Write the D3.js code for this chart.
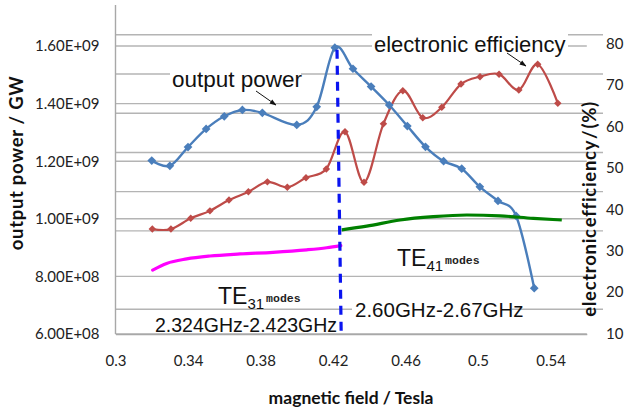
<!DOCTYPE html>
<html>
<head>
<meta charset="utf-8">
<script src="https://cdn.jsdelivr.net/npm/d3@7"></script>
<style>
  html, body { margin: 0; padding: 0; background: #fff; }
  svg { display: block; }
  text { font-family: Lato, "Open Sans", sans-serif; }
  .lbl { font-family: "Liberation Sans", Arial, sans-serif; fill: #111; }
  .modes { font-family: "Liberation Mono", monospace; font-weight: bold; fill: #222; }
</style>
</head>
<body>
<svg id="chart" width="625" height="411"></svg>
<script>
// magnetic field (T) and output power (W)
const powerField = [0.32, 0.33, 0.34, 0.35, 0.36, 0.37, 0.381, 0.40, 0.411, 0.421, 0.431,
                    0.441, 0.451, 0.461, 0.471, 0.481, 0.491, 0.501, 0.511, 0.521, 0.531];
const powerValues = [1.202e9, 1.184e9, 1.249e9, 1.312e9, 1.356e9, 1.378e9, 1.368e9, 1.326e9,
                     1.389e9, 1.594e9, 1.521e9, 1.459e9, 1.395e9, 1.322e9, 1.250e9, 1.200e9,
                     1.174e9, 1.111e9, 1.062e9, 1.010e9, 7.59e8];

// magnetic field (T) and electronic efficiency (%)
const effField = [0.3203, 0.3306, 0.3415, 0.3521, 0.3626, 0.3733, 0.3838, 0.3948, 0.4051,
                  0.4163, 0.4266, 0.4371, 0.4478, 0.4585, 0.4695, 0.4800, 0.4906, 0.5011,
                  0.5116, 0.5225, 0.5329, 0.5440];
const effValues = [35.2, 35.2, 37.8, 39.6, 42.2, 44.2, 46.6, 45.3, 47.6, 49.7, 58.7, 46.5,
                   60.6, 68.6, 62.1, 64.6, 70.2, 72.0, 72.6, 68.8, 75.0, 65.6];

// TE31 mode band (efficiency scale)
const te31Field = [0.3205, 0.3282, 0.3393, 0.3521, 0.3687, 0.3869, 0.4055, 0.4165, 0.4243];
const te31Values = [25.3, 26.9, 28.0, 28.7, 29.2, 29.6, 30.2, 30.7, 31.2];

// TE41 mode band (efficiency scale)
const te41Field = [0.4248, 0.4386, 0.4570, 0.4753, 0.4938, 0.5121, 0.5305, 0.5462];
const te41Values = [35.0, 35.9, 37.4, 38.2, 38.6, 38.4, 37.8, 37.4];

// mode boundary
const boundaryField = [0.4222, 0.4245];
const boundaryEff = [78.5, 10];

// axis ticks
const xTicks = [0.3, 0.34, 0.38, 0.42, 0.46, 0.5, 0.54];
const leftTicks = [6e8, 8e8, 1.0e9, 1.2e9, 1.4e9, 1.6e9];
const leftTickLabels = ["6.00E+08", "8.00E+08", "1.00E+09", "1.20E+09", "1.40E+09", "1.60E+09"];
const rightTicks = [10, 20, 30, 40, 50, 60, 70, 80];
// grid of the efficiency panel (its own spacing)
const effGrid = [20, 40, 50, 60, 70, 80, 90];

const svg = d3.select("#chart");

const x = d3.scaleLinear().domain([0.3, 0.56]).range([115.5, 586.8]);
const yL = d3.scaleLinear().domain([6e8, 1.6e9]).range([334, 46]);
const yR = d3.scaleLinear().domain([10, 80]).range([333.5, 43.5]);
const yG = d3.scaleLinear().domain([10, 80]).range([348.5, 74]);

const gridColor = "#b4b4b4";

// efficiency panel grid
svg.append("g").selectAll("line").data(effGrid).join("line")
  .attr("x1", x(0.3)).attr("x2", 603)
  .attr("y1", d => yG(d)).attr("y2", d => yG(d))
  .attr("stroke", gridColor).attr("stroke-width", 1.4);

// power grid
svg.append("g").selectAll("line").data(leftTicks).join("line")
  .attr("x1", x(0.3)).attr("x2", x(0.56))
  .attr("y1", d => yL(d)).attr("y2", d => yL(d))
  .attr("stroke", gridColor).attr("stroke-width", 1.4);

// left axis
const leftAxis = d3.axisLeft(yL).tickValues(leftTicks)
  .tickFormat((d, i) => leftTickLabels[i]).tickSize(0).tickPadding(16);
const gL = svg.append("g").attr("transform", `translate(${x(0.3)},0)`).call(leftAxis);
gL.select(".domain").remove();
gL.append("line").attr("x1", 0).attr("x2", 0).attr("y1", 5).attr("y2", 334)
  .attr("stroke", "#a8a8a8").attr("stroke-width", 1.4);
gL.selectAll("text").attr("font-size", 15).attr("fill", "#222")
  .attr("font-family", "Lato, sans-serif");

// bottom axis
const bottomAxis = d3.axisBottom(x).tickValues(xTicks).tickFormat(d3.format("")).tickSize(0).tickPadding(21);
const gB = svg.append("g").attr("transform", "translate(0,334)").call(bottomAxis);
gB.select(".domain").attr("stroke", "#a8a8a8").attr("stroke-width", 1.4);
gB.selectAll("text").attr("font-size", 15).attr("fill", "#222")
  .attr("font-family", "Lato, sans-serif");

// right axis
const rightAxis = d3.axisRight(yR).tickValues(rightTicks).tickSize(0).tickPadding(0);
const gR = svg.append("g").attr("transform", "translate(606,0)").call(rightAxis);
gR.select(".domain").remove();
gR.selectAll("text").attr("font-size", 15).attr("fill", "#222")
  .attr("font-family", "Lato, sans-serif");

// axis titles
svg.append("text").attr("transform", "translate(23,163) rotate(-90)")
  .attr("text-anchor", "middle").attr("font-weight", "bold").attr("font-size", 18.5)
  .attr("letter-spacing", "0.7px").attr("fill", "#111").text("output power / GW");
svg.append("text").attr("transform", "translate(596,209) rotate(-90)")
  .attr("text-anchor", "middle").attr("font-weight", "bold").attr("font-size", 18.5)
  .attr("letter-spacing", "0.7px").attr("word-spacing", "-4px")
  .attr("fill", "#111").text("electronic efficiency / (%)");
svg.append("text").attr("x", 351).attr("y", 404)
  .attr("text-anchor", "middle").attr("font-weight", "bold").attr("font-size", 17.5)
  .attr("fill", "#111").text("magnetic field / Tesla");

// callout boxes
svg.append("rect").attr("x", 170).attr("y", 62).attr("width", 131).attr("height", 30).attr("fill", "#fff");
svg.append("rect").attr("x", 372).attr("y", 28).attr("width", 196).attr("height", 30).attr("fill", "#fff");
svg.append("rect").attr("x", 352).attr("y", 298).attr("width", 160).attr("height", 22).attr("fill", "#fff");

const smooth = d3.curveCardinal.tension(0);

// efficiency line
const effData = effField.map((f, i) => [f, effValues[i]]);
svg.append("path").datum(effData)
  .attr("d", d3.line().x(d => x(d[0])).y(d => yR(d[1])).curve(smooth))
  .attr("fill", "none").attr("stroke", "#be4b48").attr("stroke-width", 2.2);
svg.append("g").selectAll("path").data(effData).join("path")
  .attr("transform", d => `translate(${x(d[0])},${yR(d[1])}) rotate(45)`)
  .attr("d", d3.symbol(d3.symbolSquare, 28)())
  .attr("fill", "#be4b48");

// output power line
const powerData = powerField.map((f, i) => [f, powerValues[i]]);
svg.append("path").datum(powerData)
  .attr("d", d3.line().x(d => x(d[0])).y(d => yL(d[1])).curve(smooth))
  .attr("fill", "none").attr("stroke", "#4a7ebb").attr("stroke-width", 2.4);
svg.append("g").selectAll("path").data(powerData).join("path")
  .attr("transform", d => `translate(${x(d[0])},${yL(d[1])}) rotate(45)`)
  .attr("d", d3.symbol(d3.symbolSquare, 38)())
  .attr("fill", "#4a7ebb");

// mode bands
const te31Data = te31Field.map((f, i) => [f, te31Values[i]]);
svg.append("path").datum(te31Data)
  .attr("d", d3.line().x(d => x(d[0])).y(d => yR(d[1])).curve(d3.curveMonotoneX))
  .attr("fill", "none").attr("stroke", "#ff00ff").attr("stroke-width", 3.2)
  .attr("stroke-linecap", "round");
const te41Data = te41Field.map((f, i) => [f, te41Values[i]]);
svg.append("path").datum(te41Data)
  .attr("d", d3.line().x(d => x(d[0])).y(d => yR(d[1])).curve(d3.curveMonotoneX))
  .attr("fill", "none").attr("stroke", "#008000").attr("stroke-width", 3.2);

// mode boundary (dashed)
const boundaryData = boundaryField.map((f, i) => [f, boundaryEff[i]]);
svg.append("path").datum(boundaryData)
  .attr("d", d3.line().x(d => x(d[0])).y(d => yR(d[1])))
  .attr("fill", "none").attr("stroke", "#0a14f0").attr("stroke-width", 3.2)
  .attr("stroke-dasharray", "9,7");

// callouts
svg.append("text").attr("class", "lbl").attr("x", 172).attr("y", 87)
  .attr("font-size", 22.5).text("output power");
svg.append("text").attr("class", "lbl").attr("x", 374).attr("y", 52)
  .attr("font-size", 22).text("electronic efficiency");

const defs = svg.append("defs");
defs.append("marker").attr("id", "arrow").attr("viewBox", "0 0 10 10")
  .attr("refX", 9).attr("refY", 5).attr("markerWidth", 7).attr("markerHeight", 7)
  .attr("orient", "auto").append("path").attr("d", "M0,1.5 L10,5 L0,8.5Z").attr("fill", "#111");
svg.append("line").attr("x1", 256).attr("y1", 91).attr("x2", 276).attr("y2", 105)
  .attr("stroke", "#111").attr("stroke-width", 1).attr("marker-end", "url(#arrow)");
svg.append("line").attr("x1", 507).attr("y1", 53).attr("x2", 526).attr("y2", 66)
  .attr("stroke", "#111").attr("stroke-width", 1).attr("marker-end", "url(#arrow)");

// mode labels
function modeLabel(px, py, sub) {
  const t = svg.append("text").attr("class", "lbl").attr("x", px).attr("y", py);
  t.append("tspan").attr("font-size", 23).text("TE");
  t.append("tspan").attr("font-size", 15).attr("dy", 5).text(sub);
  t.append("tspan").attr("class", "modes").attr("font-size", 11.5).attr("dx", 2).attr("dy", -7).text("modes");
}
modeLabel(218, 304, "31");
modeLabel(397, 266, "41");

svg.append("text").attr("class", "lbl").attr("x", 155).attr("y", 331.5)
  .attr("font-size", 19.5).text("2.324GHz-2.423GHz");
svg.append("text").attr("class", "lbl").attr("x", 355).attr("y", 316.5)
  .attr("font-size", 20.5).text("2.60GHz-2.67GHz");
</script>
</body>
</html>
